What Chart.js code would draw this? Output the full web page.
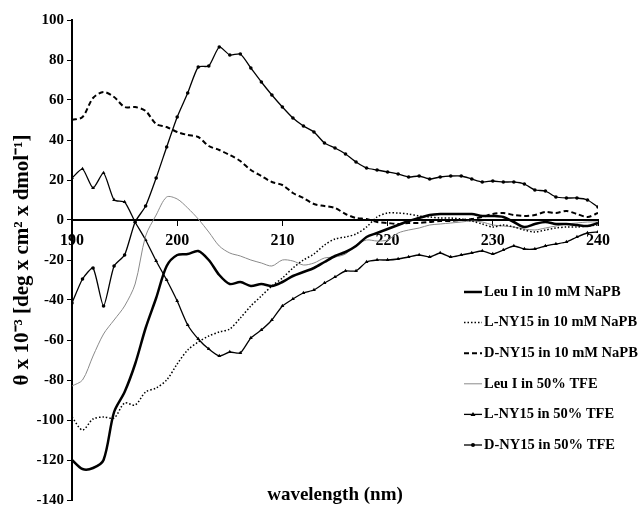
<!DOCTYPE html>
<html>
<head>
<meta charset="utf-8">
<script src="https://cdn.jsdelivr.net/npm/chart.js@4"></script>
<style>
  html, body { margin: 0; padding: 0; background: #fff; }
</style>
</head>
<body>
<canvas id="cdChart" width="638" height="508"></canvas>
<script>
// wavelength (nm), 1 nm steps
const wavelengths = [190, 191, 192, 193, 194, 195, 196, 197, 198, 199,
  200, 201, 202, 203, 204, 205, 206, 207, 208, 209,
  210, 211, 212, 213, 214, 215, 216, 217, 218, 219,
  220, 221, 222, 223, 224, 225, 226, 227, 228, 229,
  230, 231, 232, 233, 234, 235, 236, 237, 238, 239, 240];

// mean residue ellipticity x 10^-3
const leuNaPB = [-120, -124.5, -124, -120, -96, -86, -72, -54, -39, -23,
  -17.5, -17, -15.5, -20, -27.5, -32, -31, -33, -32, -33,
  -31, -28, -26, -24, -21, -18, -16, -13, -8.5, -6.5,
  -4.5, -2.5, -0.5, 1, 2.5, 3, 3, 3, 3, 2,
  2, 1.5, -1, -3.5, -2, -1, -2, -2, -2.5, -3, -1.5];
const lNaPB = [-98.5, -105, -99.5, -98.5, -99, -91.5, -92.5, -86, -84, -80,
  -72, -65, -61, -58, -56, -54.5, -49, -43, -38, -33,
  -29, -24, -20, -17, -12.5, -9.5, -8.5, -7, -3.5, 1.5,
  3.5, 3.5, 3, 2, 1.5, 1, 1, 0.5, -0.5, -2,
  -3.5, -2.5, -3.5, -5, -6, -5, -4, -3.5, -3.5, -3, -2.5];
const dNaPB = [50, 51.5, 61, 64, 61.5, 56.5, 56.5, 54.5, 48, 46.5,
  44, 42.5, 41.5, 37, 35, 32.5, 29.5, 25, 22, 19,
  17.5, 13.5, 11, 8, 7, 6, 3, 1, 0.5, -1,
  -1.5, -2, -1.5, -1.5, -1, -0.5, -0.5, 0, 0.5, 1.5,
  3, 3.5, 2.5, 2, 2.5, 4, 3.5, 4.5, 3, 1.5, 3.5];
const leuTFE = [-83, -80, -68, -57, -50, -43, -32, -8, 2.5, 11.5,
  10.5, 6, 0.5, -6, -13, -16.5, -18, -20, -21.5, -23,
  -20, -20.5, -22.5, -21.5, -19, -18.5, -17, -12.5, -10, -10.5,
  -10, -6.5, -5, -4, -2.5, -2, -1.5, -1, -0.5, -1,
  -2.5, -3, -3.5, -4.5, -5, -4, -3, -2, -1.5, -1, -1];
const lTFE = [21, 25.5, 16, 23.5, 10, 9, -1, -10, -20.5, -30,
  -40.5, -52.5, -59.5, -64.5, -68, -66, -66.5, -59, -55, -50,
  -43, -39.5, -36.5, -35, -31.5, -28.5, -25.5, -25.5, -21, -20,
  -20, -19.5, -18.5, -17.5, -18.5, -16.5, -18.5, -17.5, -16.5, -15.5,
  -17, -15, -13, -14.5, -14.5, -13, -12, -11, -8.5, -6.5, -6];
const dTFE = [-41.5, -29.5, -24, -43, -23, -17.5, -1, 7, 21, 36.5,
  51.5, 63.5, 76.5, 77, 86.5, 82.5, 83, 76, 69, 62.5,
  56.5, 51, 47, 44, 38.5, 36, 33, 29, 26, 25,
  24, 23, 21.5, 22, 20.5, 21.5, 22, 22, 20.5, 19,
  19.5, 19, 19, 18, 15, 14.5, 11.5, 11, 11, 10, 6.5];

const seriesLabels = ['Leu I in 10 mM NaPB', 'L-NY15 in 10 mM NaPB', 'D-NY15 in 10 mM NaPB',
  'Leu I in 50% TFE', 'L-NY15 in 50% TFE', 'D-NY15 in 50% TFE'];
const xTicks = [190, 200, 210, 220, 230, 240];
const yTicks = [100, 80, 60, 40, 20, 0, -20, -40, -60, -80, -100, -120, -140];

const serif = '"Liberation Serif", "Times New Roman", serif';
const pts = vals => wavelengths.map((w, i) => ({ x: w, y: vals[i] }));

// legend drawn inside the plot, right side
const insideLegend = {
  id: 'insideLegend',
  afterDraw(chart) {
    const ctx = chart.ctx;
    ctx.save();
    ctx.font = 'bold 14.5px ' + serif;
    ctx.textBaseline = 'middle';
    ctx.fillStyle = '#000';
    chart.data.datasets.forEach((ds, i) => {
      const y = 292 + i * 30.6;
      ctx.strokeStyle = ds.borderColor;
      ctx.lineWidth = ds.borderWidth;
      ctx.setLineDash(ds.borderDash || []);
      ctx.beginPath();
      ctx.moveTo(464, y);
      ctx.lineTo(482, y);
      ctx.stroke();
      ctx.setLineDash([]);
      if (ds.pointRadius) {
        ctx.fillStyle = '#000';
        ctx.beginPath();
        if (ds.pointStyle === 'triangle') {
          ctx.moveTo(473, y - 2.5); ctx.lineTo(475.5, y + 1.5); ctx.lineTo(470.5, y + 1.5);
        } else {
          ctx.arc(473, y, 2, 0, Math.PI * 2);
        }
        ctx.fill();
      }
      ctx.fillStyle = '#000';
      ctx.fillText(ds.label, 484, y);
    });
    // x axis title sits at the bottom of the plot
    ctx.font = 'bold 19px ' + serif;
    ctx.textAlign = 'center';
    ctx.textBaseline = 'alphabetic';
    ctx.fillText('wavelength (nm)', 335, 500);
    ctx.restore();
  }
};

const ctx = document.getElementById('cdChart').getContext('2d');
new Chart(ctx, {
  type: 'line',
  data: {
    datasets: [
      { label: seriesLabels[0], data: pts(leuNaPB), borderColor: '#000', borderWidth: 2.5, pointRadius: 0, tension: 0.3 },
      { label: seriesLabels[1], data: pts(lNaPB), borderColor: '#000', borderWidth: 1.5, borderDash: [1.5, 2], pointRadius: 0, tension: 0.3 },
      { label: seriesLabels[2], data: pts(dNaPB), borderColor: '#000', borderWidth: 2, borderDash: [5, 3], pointRadius: 0, tension: 0.3 },
      { label: seriesLabels[3], data: pts(leuTFE), borderColor: '#8a8a8a', borderWidth: 1, pointRadius: 0, tension: 0.3 },
      { label: seriesLabels[4], data: pts(lTFE), borderColor: '#000', borderWidth: 1.3, pointRadius: 2.2, pointStyle: 'triangle',
        pointBackgroundColor: '#000', pointBorderColor: '#000', pointBorderWidth: 0, tension: 0.2 },
      { label: seriesLabels[5], data: pts(dTFE), borderColor: '#000', borderWidth: 1.3, pointRadius: 1.8, pointStyle: 'circle',
        pointBackgroundColor: '#000', pointBorderColor: '#000', pointBorderWidth: 0, tension: 0.2 }
    ]
  },
  options: {
    responsive: false,
    animation: false,
    layout: { padding: { top: 20, right: 40, bottom: 8, left: 0 } },
    plugins: { legend: { display: false }, tooltip: { enabled: false } },
    scales: {
      x: {
        type: 'linear', min: 190, max: 240, position: { y: 0 },
        afterBuildTicks: s => { s.ticks = xTicks.map(v => ({ value: v })); },
        ticks: { color: '#000', font: { family: serif, size: 16, weight: 'bold' }, padding: 6, maxRotation: 0 },
        grid: { drawOnChartArea: false, drawTicks: true, tickLength: 5, color: '#000', lineWidth: 1 },
        border: { color: '#000', width: 2 }
      },
      y: {
        min: -140, max: 100,
        afterBuildTicks: s => { s.ticks = yTicks.map(v => ({ value: v })); },
        afterFit: s => { s.width = 72; s.paddingTop = 0; s.paddingBottom = 0; },
        ticks: { color: '#000', font: { family: serif, size: 15, weight: 'bold' }, padding: 3 },
        grid: { drawOnChartArea: false, drawTicks: true, tickLength: 5, color: '#000', lineWidth: 1 },
        border: { color: '#000', width: 2 },
        title: { display: true, text: 'θ x 10⁻³ [deg x cm² x dmol⁻¹]', color: '#000',
          font: { family: serif, size: 21, weight: 'bold' }, padding: { top: 10, bottom: 0 } }
      }
    }
  },
  plugins: [insideLegend]
});
</script>
</body>
</html>
